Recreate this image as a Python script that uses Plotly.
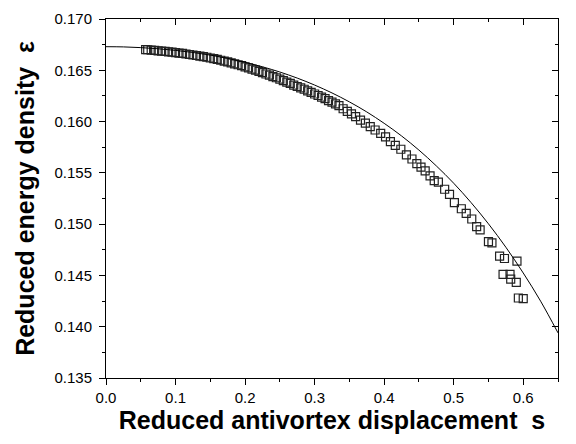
import plotly.graph_objects as go

# Theoretical curve
curve_s = [0.0, 0.025, 0.05, 0.075, 0.1, 0.125, 0.15, 0.175, 0.2, 0.225, 0.25, 0.275,
           0.3, 0.325, 0.35, 0.375, 0.4, 0.425, 0.45, 0.475, 0.5, 0.525, 0.55, 0.575,
           0.6, 0.625, 0.65]
curve_e = [0.16730, 0.16728, 0.16721, 0.16710, 0.16694, 0.16674, 0.16648, 0.16616,
           0.16578, 0.16534, 0.16483, 0.16424, 0.16356, 0.16279, 0.16192, 0.16094,
           0.15983, 0.15860, 0.15722, 0.15568, 0.15399, 0.15210, 0.15003, 0.14775,
           0.14524, 0.14249, 0.13940]

# Simulation points (open squares)
data_s = [0.057, 0.060, 0.065, 0.070, 0.075, 0.080, 0.085, 0.090, 0.095, 0.100,
          0.105, 0.110, 0.115, 0.120, 0.125, 0.130, 0.135, 0.140, 0.145, 0.150,
          0.155, 0.160, 0.165, 0.170, 0.175, 0.180, 0.185, 0.190, 0.195, 0.200,
          0.205, 0.210, 0.215, 0.220, 0.225, 0.230, 0.235, 0.240, 0.245, 0.250,
          0.255, 0.260, 0.265, 0.270, 0.275, 0.280, 0.285, 0.290, 0.295, 0.300,
          0.305, 0.310, 0.315, 0.320, 0.325, 0.330, 0.335,
          0.341, 0.347, 0.353, 0.359, 0.366, 0.373, 0.380, 0.387, 0.395, 0.402,
          0.409, 0.416, 0.424, 0.432, 0.440, 0.447, 0.453, 0.459, 0.466, 0.472,
          0.478, 0.487, 0.494, 0.501, 0.511, 0.518, 0.526, 0.533, 0.538, 0.550,
          0.555, 0.566, 0.573, 0.591, 0.571, 0.581, 0.582, 0.590, 0.593, 0.600]
data_e = [0.16702, 0.16700, 0.16697, 0.16694, 0.16690, 0.16687, 0.16684, 0.16680, 0.16677, 0.16672,
          0.16668, 0.16664, 0.16659, 0.16654, 0.16649, 0.16644, 0.16638, 0.16633, 0.16627, 0.16620,
          0.16613, 0.16606, 0.16598, 0.16590, 0.16582, 0.16572, 0.16563, 0.16554, 0.16545, 0.16533,
          0.16523, 0.16512, 0.16501, 0.16489, 0.16478, 0.16464, 0.16453, 0.16439, 0.16427, 0.16413,
          0.16400, 0.16385, 0.16372, 0.16356, 0.16342, 0.16329, 0.16315, 0.16299, 0.16285, 0.16269,
          0.16254, 0.16238, 0.16223, 0.16205, 0.16189, 0.16172, 0.16155,
          0.16125, 0.16100, 0.16075, 0.16048, 0.16015, 0.15985, 0.15950, 0.15918, 0.15885, 0.15850,
          0.15805, 0.15768, 0.15730, 0.15675, 0.15635, 0.15590, 0.15555, 0.15520, 0.15470, 0.15425,
          0.15410, 0.15340, 0.15290, 0.15210, 0.15150, 0.15105, 0.15050, 0.14975, 0.14945, 0.14830,
          0.14818, 0.14688, 0.14665, 0.14639, 0.14511, 0.14511, 0.14464, 0.14432, 0.14280, 0.14274]

x_range = [0.0, 0.65]
y_range = [0.135, 0.170]
x_title = "Reduced antivortex displacement  s"
y_title = "Reduced energy density  ε"

font_fam = "Liberation Sans, Arial, sans-serif"

fig = go.Figure()
fig.add_trace(go.Scatter(x=data_s, y=data_e, mode="markers",
                         marker=dict(symbol="square-open", size=8, color="#222222",
                                     line=dict(width=1.2, color="#222222")),
                         hoverinfo="skip"))
fig.add_trace(go.Scatter(x=curve_s, y=curve_e, mode="lines", line_shape="spline",
                         line=dict(color="black", width=1), hoverinfo="skip"))
# invisible trace so the mirrored axes are drawn
fig.add_trace(go.Scatter(x=[x_range[0]], y=[y_range[0]], xaxis="x2", yaxis="y2",
                         mode="markers", marker=dict(opacity=0), hoverinfo="skip"))

common = dict(showgrid=False, zeroline=False, showline=True, linecolor="black",
              linewidth=1, tickcolor="black", tickwidth=1)

fig.update_layout(
    width=576, height=444,
    margin=dict(l=106, r=18, t=10, b=66),
    plot_bgcolor="white", paper_bgcolor="white",
    showlegend=False,
    font=dict(family=font_fam, color="black"),
    xaxis=dict(range=x_range, tick0=0, dtick=0.1, tickformat=".1f",
               ticks="outside", ticklen=6,
               minor=dict(dtick=0.05, ticks="outside", ticklen=3, tickcolor="black"),
               tickfont=dict(size=15, family=font_fam),
               title=dict(text="<b>" + x_title + "</b>", standoff=6,
                          font=dict(size=25, family=font_fam)),
               **common),
    yaxis=dict(range=y_range, tick0=0.135, dtick=0.005, tickformat=".3f",
               ticks="outside", ticklen=6, ticklabelstandoff=4,
               minor=dict(dtick=0.0025, ticks="outside", ticklen=3, tickcolor="black"),
               tickfont=dict(size=15, family=font_fam),
               title=dict(text="<b>" + y_title + "</b>", standoff=12,
                          font=dict(size=25, family=font_fam)),
               **common),
    xaxis2=dict(range=x_range, overlaying="x", side="top", anchor="y2",
                tick0=0, dtick=0.1, ticks="inside", ticklen=6, showticklabels=False,
                minor=dict(dtick=0.05, ticks="inside", ticklen=3, tickcolor="black"),
                **common),
    yaxis2=dict(range=y_range, overlaying="y", side="right", anchor="x2",
                tick0=0.135, dtick=0.005, ticks="inside", ticklen=6, showticklabels=False,
                minor=dict(dtick=0.0025, ticks="inside", ticklen=3, tickcolor="black"),
                **common),
)

fig.write_html("out.html")
